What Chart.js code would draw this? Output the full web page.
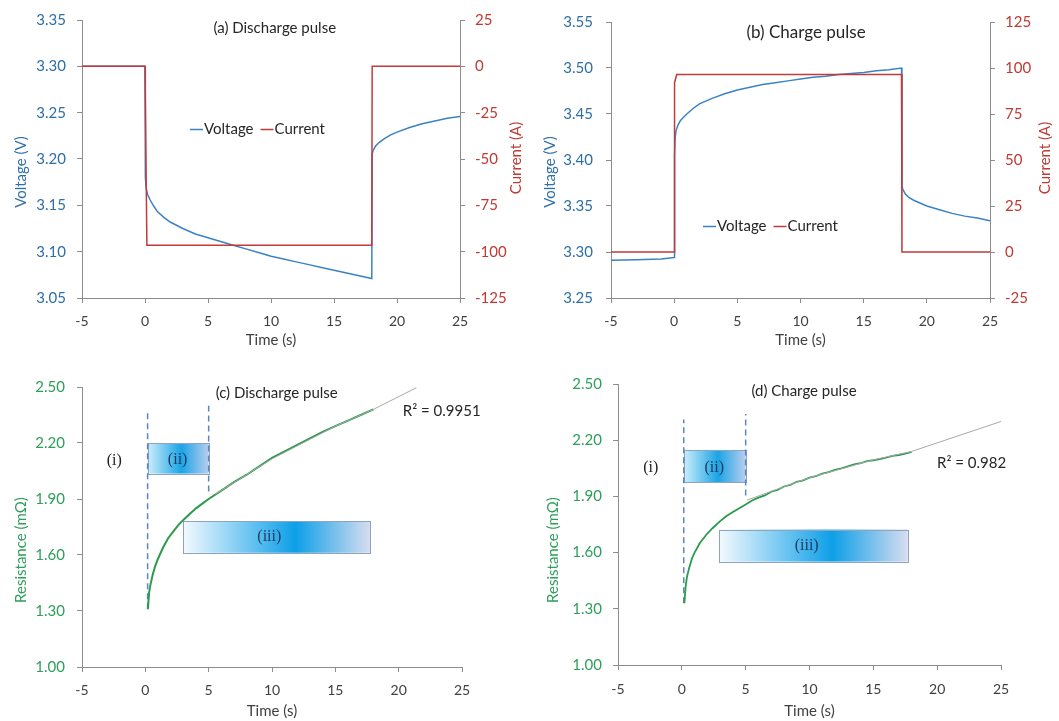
<!DOCTYPE html>
<html><head><meta charset="utf-8">
<script src="https://cdn.jsdelivr.net/npm/chart.js@4.4.1/dist/chart.umd.min.js"></script>
<style>
html,body{margin:0;padding:0;background:#fff;overflow:hidden;width:1059px;height:721px}
canvas{position:absolute}
</style></head>
<body>
<canvas id="ca" width="530" height="350" style="left:0;top:0"></canvas>
<canvas id="cb" width="529" height="350" style="left:530px;top:0"></canvas>
<canvas id="cc" width="530" height="361" style="left:0;top:360px"></canvas>
<canvas id="cd" width="529" height="361" style="left:530px;top:360px"></canvas>
<script>
// ---------- data ----------
const timeRange = [-5, 25];
const timeStep = 5;

// (a) discharge pulse
const tA_volt = [-5, -4, -3, -2, -1, 0, 0.03, 0.1, 0.2, 0.4, 0.7, 1, 1.5, 2, 3, 4, 5, 6, 7, 8, 9, 10, 11, 12, 13, 14, 15, 16, 17, 18, 18.03, 18.1, 18.3, 18.6, 19, 19.5, 20, 21, 22, 23, 24, 25];
const voltA = [3.300, 3.300, 3.300, 3.300, 3.300, 3.300, 3.180, 3.168, 3.162, 3.156, 3.149, 3.143, 3.137, 3.132, 3.125, 3.119, 3.115, 3.111, 3.107, 3.103, 3.099, 3.095, 3.092, 3.089, 3.086, 3.083, 3.080, 3.077, 3.074, 3.071, 3.205, 3.209, 3.214, 3.218, 3.222, 3.226, 3.229, 3.234, 3.238, 3.241, 3.244, 3.246];
const tA_curr = [-5, 0, 0.15, 18, 18.03, 25];
const currA = [0, 0, -96.5, -96.5, 0, 0];
const voltRangeA = [3.05, 3.35];
const currRangeA = [-125, 25];

// (b) charge pulse
const tB_volt = [-5, -3, -1, 0, 0.03, 0.08, 0.15, 0.3, 0.5, 0.7, 1, 1.5, 2, 3, 4, 5, 6, 7, 8, 9, 10, 11, 12, 13, 14, 15, 16, 17, 18, 18.03, 18.1, 18.3, 18.6, 19, 19.5, 20, 21, 22, 23, 24, 25];
const voltB = [3.291, 3.2915, 3.2925, 3.294, 3.405, 3.425, 3.432, 3.438, 3.443, 3.446, 3.450, 3.456, 3.461, 3.467, 3.472, 3.476, 3.479, 3.482, 3.484, 3.486, 3.488, 3.490, 3.491, 3.493, 3.494, 3.495, 3.497, 3.498, 3.500, 3.372, 3.368, 3.363, 3.359, 3.356, 3.353, 3.350, 3.346, 3.342, 3.339, 3.337, 3.334];
const tB_curr = [-5, 0, 0.03, 0.2, 18, 18.03, 25];
const currB = [0, 0, 92, 96.5, 96.5, 0, 0];
const voltRangeB = [3.25, 3.55];
const currRangeB = [-25, 125];

// (c) discharge resistance
const tC = [0.2, 0.3, 0.4, 0.6, 0.8, 1.0, 1.4, 1.8, 2.2, 2.6, 3.0, 3.5, 4.0, 4.5, 5, 6, 7, 8, 9, 10, 11, 12, 13, 14, 15, 16, 17, 18];
const resC = [1.31, 1.40, 1.44, 1.50, 1.545, 1.58, 1.64, 1.69, 1.725, 1.76, 1.788, 1.82, 1.85, 1.875, 1.90, 1.945, 1.99, 2.03, 2.075, 2.12, 2.155, 2.19, 2.225, 2.26, 2.29, 2.32, 2.35, 2.38];
const tTrendC = [5.5, 10, 15, 18, 21.4];
const trendC = [1.925, 2.115, 2.29, 2.38, 2.496];
const dashC_t = [0.18, 5.0];
const dashC_top = [2.36, 2.40];
const dashC_bot = [1.31, 1.94];
const r2C = 'R² = 0.9951';

// (d) charge resistance
const tD = [0.2, 0.3, 0.4, 0.6, 0.8, 1.0, 1.4, 1.9, 2.4, 3.0, 3.5, 4.0, 4.5, 5, 5.5, 6, 6.5, 7, 7.5, 8, 8.5, 9, 9.5, 10, 10.5, 11, 11.5, 12, 12.5, 13, 13.5, 14, 14.5, 15, 15.5, 16, 16.5, 17, 17.5, 18];
const resD = [1.33, 1.42, 1.47, 1.525, 1.57, 1.60, 1.65, 1.694, 1.73, 1.768, 1.795, 1.817, 1.837, 1.857, 1.878, 1.893, 1.905, 1.925, 1.935, 1.953, 1.962, 1.978, 1.986, 2.0, 2.008, 2.022, 2.030, 2.042, 2.050, 2.060, 2.071, 2.077, 2.088, 2.093, 2.099, 2.107, 2.116, 2.121, 2.128, 2.137];
const tTrendD = [5.1, 10, 15, 18, 25];
const trendD = [1.88, 2.0, 2.095, 2.14, 2.30];
const dashD_t = [0.15, 5.0];
const dashD_top = [2.31, 2.34];
const dashD_bot = [1.33, 1.905];
const r2D = 'R² = 0.982';
const resRange = [1.00, 2.50];
const resStep = 0.30;

// ---------- styles ----------
const FONT = 'Lato, "Open Sans", sans-serif';
const SERIF = '"Liberation Serif", "DejaVu Serif", serif';
const AXIS = '#8c8c8c';
const BLUE_T = '#2f6fa8', RED_T = '#be3a34', GREEN_T = '#2e9e5b';
const VOLT = '#3c82c2', CURR = '#c23b3b', RES = '#2a9a4c', TREND = '#a8a8a8', DASH = '#5b86c0';
const GRAD_II = [[0, '#cdeefb'], [0.55, '#1ba4e6'], [1, '#b7cdee']];
const GRAD_III = [[0, '#f4fafe'], [0.6, '#0d9fe8'], [1, '#d7ddef']];

const pts = (xs, ys) => xs.map((x, i) => ({x, y: ys[i]}));
const vline = (x, y0, y1) => [{x, y: y0}, {x, y: y1}];

const deco = {
  id: 'deco',
  beforeDatasetsDraw(chart, a, o) {
    const ctx = chart.ctx, xs = chart.scales.x, ys = chart.scales.y;
    (o.boxes || []).forEach(b => {
      const x0 = xs.getPixelForValue(b.x0), x1 = xs.getPixelForValue(b.x1);
      const y0 = ys.getPixelForValue(b.y1), y1 = ys.getPixelForValue(b.y0);
      const g = ctx.createLinearGradient(x0, 0, x1, 0);
      b.stops.forEach(s => g.addColorStop(s[0], s[1]));
      ctx.save();
      ctx.fillStyle = g;
      ctx.fillRect(x0, y0, x1 - x0, y1 - y0);
      ctx.strokeStyle = '#8fa3bf'; ctx.lineWidth = 1;
      ctx.strokeRect(Math.round(x0) + 0.5, Math.round(y0) + 0.5, Math.round(x1 - x0), Math.round(y1 - y0));
      ctx.restore();
    });
  },
  afterDatasetsDraw(chart, a, o) {
    const ctx = chart.ctx;
    (o.texts || []).forEach(t => {
      const sx = chart.scales.x, sy = chart.scales[t.axis || 'y'];
      ctx.save();
      ctx.font = t.font; ctx.fillStyle = t.color;
      ctx.textAlign = 'center'; ctx.textBaseline = 'middle';
      ctx.fillText(t.text, sx.getPixelForValue(t.x), sy.getPixelForValue(t.y));
      ctx.restore();
    });
    if (o.legend) {
      const L = o.legend;
      let x = L.x;
      ctx.save();
      ctx.font = '15px ' + FONT; ctx.textBaseline = 'middle'; ctx.textAlign = 'left';
      L.items.forEach(it => {
        ctx.strokeStyle = it.color; ctx.lineWidth = 1.5;
        ctx.beginPath(); ctx.moveTo(x, L.y + 0.5); ctx.lineTo(x + 13, L.y + 0.5); ctx.stroke();
        x += 14;
        ctx.fillStyle = '#262626';
        ctx.fillText(it.text, x, L.y);
        x += ctx.measureText(it.text).width + 7;
      });
      ctx.restore();
    }
    (o.ytitles || []).forEach(t => {
      ctx.save();
      ctx.translate(t.x, t.y); ctx.rotate(-Math.PI / 2);
      ctx.font = '15px ' + FONT; ctx.fillStyle = t.color;
      ctx.textAlign = 'center'; ctx.textBaseline = 'middle';
      ctx.fillText(t.text, 0, 0);
      ctx.restore();
    });
  }
};

function xAxis(h, pad) {
  return {
    type: 'linear', min: timeRange[0], max: timeRange[1],
    ticks: {stepSize: timeStep, color: '#404040', font: {family: FONT, size: 14}, padding: pad, maxRotation: 0},
    grid: {drawOnChartArea: false, drawTicks: true, tickLength: 5, color: AXIS},
    border: {display: true, color: AXIS},
    title: {display: true, text: 'Time (s)', color: '#404040', font: {family: FONT, size: 15}, padding: {top: 0, bottom: 1}},
    afterFit(s) { s.height = h; }
  };
}
function yAxis(pos, range, step, color, w, pad, dec) {
  return {
    position: pos, min: range[0], max: range[1],
    ticks: {stepSize: step, color, font: {family: FONT, size: 15}, padding: pad,
      callback: v => dec ? Number(v).toFixed(dec) : Math.round(v).toString()},
    grid: {drawOnChartArea: false, drawTicks: true, tickLength: 5, color: AXIS},
    border: {display: true, color: AXIS},
    afterFit(s) { s.width = w; }
  };
}
const lineDs = (data, color, width, extra) => Object.assign({data, borderColor: color, borderWidth: width, pointRadius: 0, tension: 0, fill: false}, extra || {});

function make(id, datasets, scales, padding, decoOpts) {
  new Chart(document.getElementById(id), {
    type: 'line',
    data: {datasets},
    options: {
      responsive: false, animation: false, parsing: true,
      layout: {padding},
      scales,
      plugins: {legend: {display: false}, tooltip: {enabled: false}, deco: decoOpts}
    },
    plugins: [deco]
  });
}

// (a)
make('ca', [
  lineDs(pts(tA_curr, currA), CURR, 1.5, {yAxisID: 'y2', label: 'Current'}),
  lineDs(pts(tA_volt, voltA), VOLT, 1.5, {yAxisID: 'y', label: 'Voltage'})
], {
  x: xAxis(52, 10),
  y: yAxis('left', voltRangeA, 0.05, BLUE_T, 82, 11, 2),
  y2: yAxis('right', currRangeA, 25, RED_T, 70, 10, 0)
}, {top: 19, left: 0, right: 0, bottom: 0}, {
  texts: [{text: '(a) Discharge pulse', x: 10.3, y: 3.341, font: '15px ' + FONT, color: '#262626'}],
  legend: {x: 190, y: 129, items: [{text: 'Voltage', color: VOLT}, {text: 'Current', color: CURR}]},
  ytitles: [{text: 'Voltage (V)', x: 21, y: 172, color: BLUE_T}, {text: 'Current (A)', x: 516, y: 158, color: RED_T}]
});

// (b)
make('cb', [
  lineDs(pts(tB_curr, currB), CURR, 1.5, {yAxisID: 'y2', label: 'Current'}),
  lineDs(pts(tB_volt, voltB), VOLT, 1.5, {yAxisID: 'y', label: 'Voltage'})
], {
  x: xAxis(52, 10),
  y: yAxis('left', voltRangeB, 0.05, BLUE_T, 81, 13, 2),
  y2: yAxis('right', currRangeB, 25, RED_T, 69, 10, 0)
}, {top: 19, left: 0, right: 0, bottom: 0}, {
  texts: [{text: '(b) Charge pulse', x: 10.44, y: 3.539, font: '17px ' + FONT, color: '#262626'}],
  legend: {x: 173, y: 226, items: [{text: 'Voltage', color: VOLT}, {text: 'Current', color: CURR}]},
  ytitles: [{text: 'Voltage (V)', x: 20, y: 172, color: BLUE_T}, {text: 'Current (A)', x: 515, y: 158, color: RED_T}]
});

// (c)
make('cc', [
  lineDs(pts(tTrendC, trendC), TREND, 1, {label: 'Trend'}),
  lineDs(pts(tC, resC), RES, 2, {label: 'Resistance'}),
  lineDs(vline(dashC_t[0], dashC_bot[0], dashC_top[0]), DASH, 1.5, {borderDash: [6, 4]}),
  lineDs(vline(dashC_t[1], dashC_bot[1], dashC_top[1]), DASH, 1.5, {borderDash: [6, 4]})
], {
  x: xAxis(54, 10),
  y: yAxis('left', resRange, resStep, GREEN_T, 82, 12, 2)
}, {top: 27, left: 0, right: 68, bottom: 0}, {
  boxes: [
    {x0: dashC_t[0], x1: dashC_t[1], y0: 2.036, y1: 2.200, stops: GRAD_II},
    {x0: 2.95, x1: 17.75, y0: 1.612, y1: 1.782, stops: GRAD_III}
  ],
  texts: [
    {text: '(c) Discharge pulse', x: 10.37, y: 2.466, font: '15px ' + FONT, color: '#262626'},
    {text: '(i)', x: -2.45, y: 2.105, font: '16px ' + SERIF, color: '#222222'},
    {text: '(ii)', x: 2.55, y: 2.109, font: '16px ' + SERIF, color: '#1f3a5f'},
    {text: '(iii)', x: 9.79, y: 1.695, font: '16px ' + SERIF, color: '#1f3a5f'},
    {text: r2C, x: 23.4, y: 2.368, font: '15px ' + FONT, color: '#262626'}
  ],
  ytitles: [{text: 'Resistance (mΩ)', x: 21, y: 190, color: GREEN_T}]
});

// (d)
make('cd', [
  lineDs(pts(tTrendD, trendD), TREND, 1, {label: 'Trend'}),
  lineDs(pts(tD, resD), RES, 1.8, {label: 'Resistance'}),
  lineDs(vline(dashD_t[0], dashD_bot[0], dashD_top[0]), DASH, 1.5, {borderDash: [6, 4]}),
  lineDs(vline(dashD_t[1], dashD_bot[1], dashD_top[1]), DASH, 1.5, {borderDash: [6, 4]})
], {
  x: xAxis(56, 11),
  y: yAxis('left', resRange, resStep, GREEN_T, 88, 11, 2)
}, {top: 24, left: 0, right: 58, bottom: 0}, {
  boxes: [
    {x0: dashD_t[0], x1: dashD_t[1], y0: 1.977, y1: 2.148, stops: GRAD_II},
    {x0: 2.9, x1: 17.7, y0: 1.552, y1: 1.723, stops: GRAD_III}
  ],
  texts: [
    {text: '(d) Charge pulse', x: 9.57, y: 2.463, font: '15px ' + FONT, color: '#262626'},
    {text: '(i)', x: -2.44, y: 2.055, font: '16px ' + SERIF, color: '#222222'},
    {text: '(ii)', x: 2.54, y: 2.055, font: '16px ' + SERIF, color: '#1f3a5f'},
    {text: '(iii)', x: 9.78, y: 1.637, font: '16px ' + SERIF, color: '#1f3a5f'},
    {text: r2D, x: 22.7, y: 2.077, font: '15px ' + FONT, color: '#262626'}
  ],
  ytitles: [{text: 'Resistance (mΩ)', x: 23, y: 190, color: GREEN_T}]
});
</script>
</body></html>
